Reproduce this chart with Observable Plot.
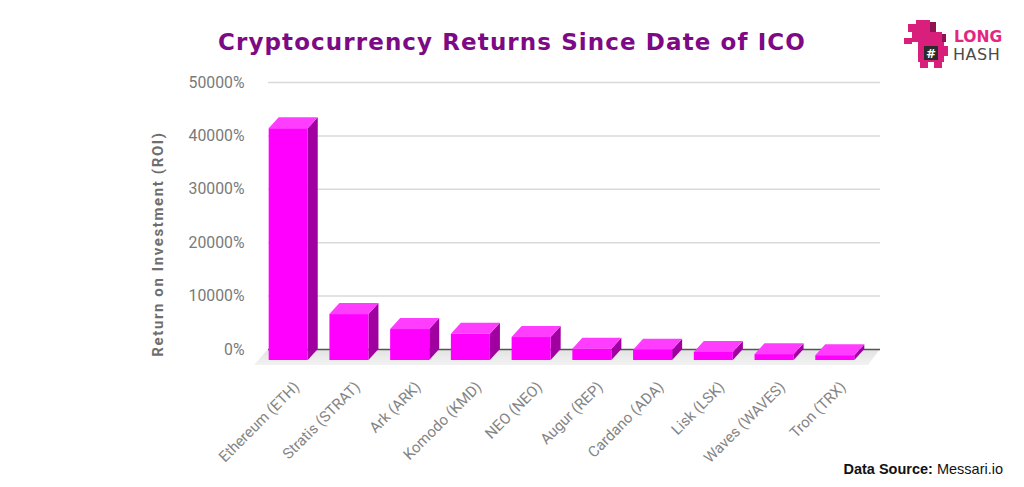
<!DOCTYPE html>
<html>
<head>
<meta charset="utf-8">
<script src="https://cdn.jsdelivr.net/npm/d3@7"></script>
<script src="https://cdn.jsdelivr.net/npm/@observablehq/plot@0.6"></script>
<style>
  html, body { margin: 0; padding: 0; background: #fff; width: 1024px; height: 487px; overflow: hidden; }
  #wrap { position: relative; width: 1024px; height: 487px; }
  #chart { position: absolute; left: 0; top: 0; }
  #title { position: absolute; left: 0; top: 29px; width: 1024px; text-align: center;
           font: bold 23px "DejaVu Sans", sans-serif; letter-spacing: 1.1px; color: #7d0a84; }
  #source { position: absolute; right: 21px; top: 461px; font: 14.5px "Liberation Sans", Arial, sans-serif; color: #111; }
  #source b { font-weight: bold; }
  #logo { position: absolute; left: 902px; top: 18px; }
</style>
</head>
<body>
<div id="wrap">
  <div id="chart"></div>
  <div id="title">Cryptocurrency Returns Since Date of ICO</div>
  <div id="source"><b>Data Source:</b> Messari.io</div>
  <svg id="logo" width="110" height="52" viewBox="0 0 110 52">
    <g fill="#d81f7c">
      <rect x="6" y="6" width="8" height="8"/><rect x="14" y="2" width="14" height="12"/>
      <rect x="10" y="14" width="30" height="10"/><rect x="2" y="20" width="8" height="6"/>
      <rect x="16" y="24" width="26" height="20"/><rect x="38" y="28" width="8" height="10"/>
      <rect x="18" y="44" width="8" height="6"/><rect x="32" y="44" width="8" height="6"/>
    </g>
    <g fill="#8e1352"><rect x="28" y="4" width="6" height="10"/><rect x="40" y="16" width="4" height="8"/></g>
    <rect x="22" y="28" width="14" height="14" fill="#2a2a2a"/>
    <text x="29" y="39.5" text-anchor="middle" font-family="DejaVu Sans" font-weight="bold" font-size="12" fill="#fff">#</text>
    <text x="52" y="24" font-family="DejaVu Sans" font-weight="bold" font-size="15.5" fill="#e4267f">LONG</text>
    <text x="51" y="42" font-family="DejaVu Sans" font-size="16" fill="#4a4a4a" letter-spacing="0.5">HASH</text>
  </svg>
</div>
<script>
// ---- data ----
const coins = ["Ethereum (ETH)", "Stratis (STRAT)", "Ark (ARK)", "Komodo (KMD)", "NEO (NEO)",
               "Augur (REP)", "Cardano (ADA)", "Lisk (LSK)", "Waves (WAVES)", "Tron (TRX)"];
const roi = [43400, 8600, 5800, 4900, 4300, 2100, 1900, 1500, 1100, 900];
const yTicks = [0, 10000, 20000, 30000, 40000, 50000];
const yLabel = "Return on Investment (ROI)";

const data = coins.map((coin, i) => ({coin, roi: roi[i]}));

// 3D extrusion: front face sits DY below and the back plane DX to the right
const DX = 10, DY = 11;
const FRONT = "#ff00ff", TOP = "#ff3dff", SIDE = "#a0009f";

function bw(x) {
  if (typeof x.bandwidth === "function") return x.bandwidth();
  if (typeof x.bandwidth === "number") return x.bandwidth;
  return 39;
}

// floor shadow under the bars
function floorMark(index, scales, values, dim) {
  const y0 = scales.y(0);
  const l = dim.marginLeft, r = dim.width - dim.marginRight;
  const g = d3.create("svg:g");
  const grad = g.append("defs").append("linearGradient").attr("id", "floorGrad")
    .attr("x1", 0).attr("y1", 0).attr("x2", 0).attr("y2", 1);
  grad.append("stop").attr("offset", "0%").attr("stop-color", "#e2e2e2");
  grad.append("stop").attr("offset", "100%").attr("stop-color", "#f2f2f2");
  g.append("path")
    .attr("d", `M${l},${y0}L${r},${y0}L${r - 12},${y0 + 16}L${l - 14},${y0 + 16}Z`)
    .attr("fill", "url(#floorGrad)");
  return g.node();
}

// top and side faces of each bar
function depthMark(index, scales) {
  const x = scales.x, y = scales.y, w = bw(x);
  const y0 = y(0);
  const g = d3.create("svg:g");
  data.forEach(d => {
    const x1 = x(d.coin), x2 = x1 + w, yv = y(d.roi);
    g.append("path")
      .attr("d", `M${x2},${yv + DY}L${x2 + DX},${yv}L${x2 + DX},${y0}L${x2},${y0 + DY}Z`)
      .attr("fill", SIDE);
    g.append("path")
      .attr("d", `M${x1},${yv + DY}L${x1 + DX},${yv}L${x2 + DX},${yv}L${x2},${yv + DY}Z`)
      .attr("fill", TOP);
  });
  return g.node();
}

const chart = Plot.plot({
  width: 1024,
  height: 487,
  marginTop: 82,
  marginBottom: 138,
  marginLeft: 268,
  marginRight: 144,
  style: {fontFamily: "Roboto, 'Noto Sans', sans-serif", background: "transparent", overflow: "visible"},
  x: {domain: coins, range: [247, 876], padding: 0.357, round: false, label: null},
  y: {domain: [0, 50000], label: null},
  marks: [
    floorMark,
    Plot.ruleY(yTicks.slice(1), {stroke: "#d9d9d9", strokeWidth: 1.5}),
    Plot.ruleY([0], {stroke: "#555", strokeWidth: 1.5}),
    depthMark,
    Plot.barY(data, {x: "coin", y: "roi", fill: FRONT, dy: DY}),
    Plot.axisY({ticks: yTicks, tickSize: 0, tickPadding: 24, tickFormat: d => d + "%",
                fontSize: 15.8, fill: "#7a7a7a", label: null}),
    Plot.axisX({tickRotate: -45, tickSize: 0, tickPadding: 0, dx: 8, dy: 35,
                fontSize: 15, fill: "#858585", label: null}),
    Plot.text([yLabel], {frameAnchor: "left", textAnchor: "middle", dx: -110, dy: 28, rotate: -90,
                         fontSize: 15, fontWeight: "bold", fill: "#6e6e6e"})
  ]
});
d3.select(chart).selectAll("text").filter(function() { return this.textContent === yLabel; })
  .style("letter-spacing", "1.6px");
document.getElementById("chart").appendChild(chart);
</script>
</body>
</html>
